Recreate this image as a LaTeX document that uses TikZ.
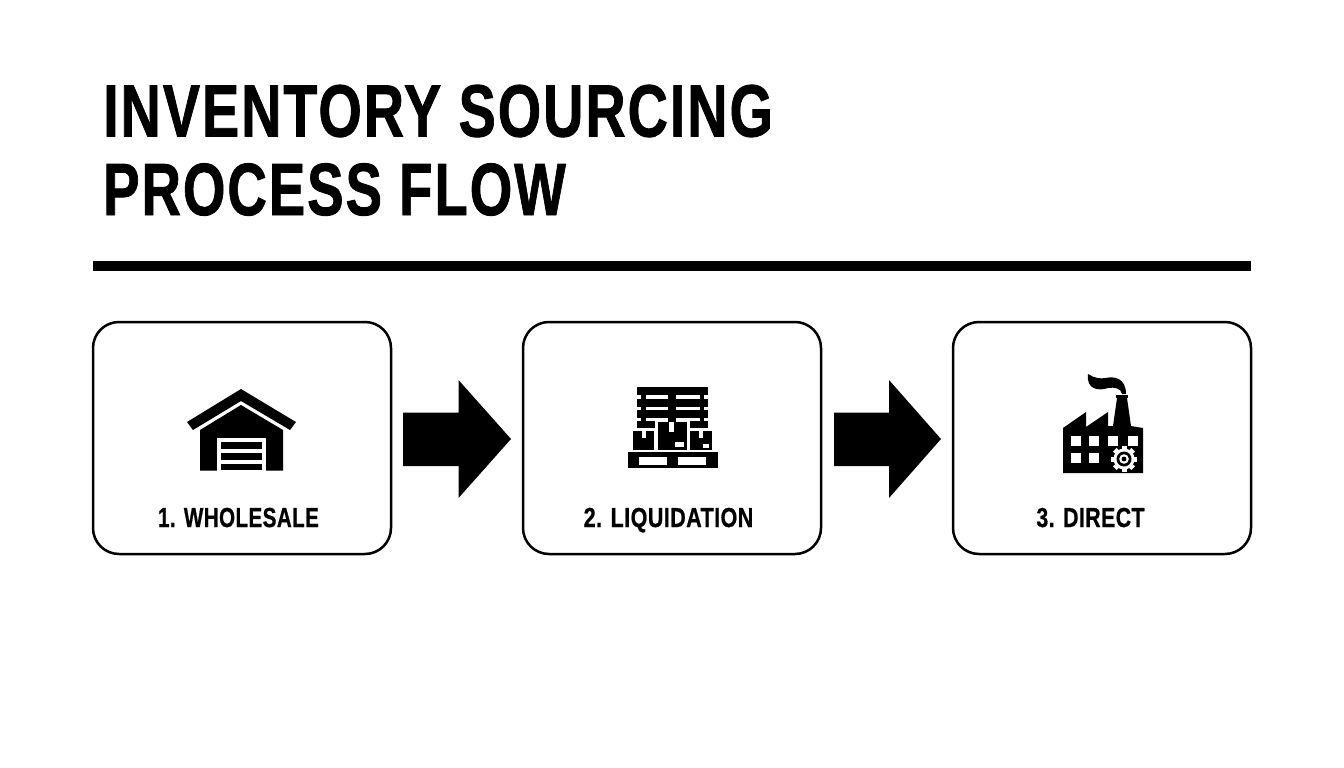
\documentclass[tikz,border=0pt]{standalone}
\usepackage{fontspec}
\setmainfont{Liberation Sans}
\newfontface\titlefont{Liberation Sans Bold}[FakeBold=1.2,LetterSpace=3.5]
\newfontface\labelfont{Liberation Sans Bold}[FakeBold=0.8,LetterSpace=2]
\usetikzlibrary{calc}
\tikzset{
  x=1pt,y=-1pt,
  card/.style={draw=black,line width=2.5pt,rounded corners=26pt,fill=white},
  titletext/.style={anchor=base west,inner sep=0pt,font=\titlefont\fontsize{74}{74}\selectfont},
  cardlabel/.style={anchor=base,inner sep=0pt,font=\labelfont\fontsize{27.5}{27.5}\selectfont}
}
\begin{document}
\begin{tikzpicture}
\useasboundingbox (0,0) rectangle (1344,768);
\fill[white] (0,0) rectangle (1344,768);
% title
\node[titletext,xscale=0.754] (t1) at (103,136.5) {INVENTORY SOURCING};
\node[titletext,xscale=0.739] (t2) at (103,215) {PROCESS FLOW};
\fill[black] (93,261) rectangle (1251,271);
% cards
\draw[card] (93,322) rectangle (391,554);
\draw[card] (523,322) rectangle (821,554);
\draw[card] (953,322) rectangle (1251,554);
\node[cardlabel,xscale=0.75] (l1) at (238.5,527) {1. WHOLESALE};
\node[cardlabel,xscale=0.783] (l2) at (668.5,527) {2. LIQUIDATION};
\node[cardlabel,xscale=0.775] (l3) at (1090.5,527) {3. DIRECT};
% arrows
\fill[black] (403,412.5) -- (458.5,412.5) -- (458.5,380) -- (511,439) -- (458.5,498) -- (458.5,466) -- (403,466) -- cycle;
\fill[black] (834,412.5) -- (889,412.5) -- (889,380) -- (941,439) -- (889,498) -- (889,466) -- (834,466) -- cycle;
% warehouse
\fill[black] (187,422) -- (241,389) -- (296,422) -- (290,430) -- (241,401) -- (193,430) -- cycle;
\fill[black] (200,470.5) -- (200,430) -- (241,405) -- (283,430) -- (283,470.5) -- cycle;
\fill[white] (217,438) rectangle (266,470.5);
\fill[black] (221,442) rectangle (262,449);
\fill[black] (221,453) rectangle (262,459.5);
\fill[black] (221,463.5) rectangle (262,470);
% pallets
\foreach \y in {387,398.5,410}{
  \fill[black] (637,\y) rectangle (708,{\y+8.3});
}
\foreach \y in {395,406.5,418}{
  \fill[black] (641,\y) rectangle (646,{\y+3.5});
  \fill[black] (668,\y) rectangle (676,{\y+3.5});
  \fill[black] (700,\y) rectangle (704,{\y+3.5});
}
\fill[black] (637,421) rectangle (655,428);
\fill[black] (690,421) rectangle (708,428);
\fill[black] (633,431) rectangle (654,450);
\fill[white] (642,431) rectangle (646,438);
\fill[black] (658,422) rectangle (687,450);
\fill[white] (669,422) rectangle (674,432);
\fill[white] (675,442) rectangle (684,447);
\fill[black] (690,431) rectangle (712,450);
\fill[white] (699,431) rectangle (703,438);
\fill[white] (703,444) rectangle (709,448);
\fill[black] (628,452) rectangle (718,468);
\fill[white] (639,457) rectangle (667,465);
\fill[white] (678,457) rectangle (706,465);
% factory
\fill[black] (1063,473) -- (1063,428) -- (1086,412) -- (1086,427) -- (1108,412) -- (1108,426) -- (1113,426) -- (1117,398) -- (1127,398) -- (1131,426) -- (1143,428) -- (1143,473) -- cycle;
\fill[black] (1116,395) rectangle (1128,398);
\fill[black] (1088,374) .. controls (1094,378) and (1100,379) .. (1106,378) .. controls (1114,376) and (1126,378) .. (1126,394) -- (1122,394) .. controls (1121,388) and (1114,387) .. (1108,388) .. controls (1099,391) and (1086,390) .. (1088,374) -- cycle;
\foreach \px in {1071,1089,1108,1128}{\fill[white] (\px,436) rectangle ++(10,9.5);}
\foreach \px in {1071,1089}{\fill[white] (\px,453) rectangle ++(10,10);}
\fill[white] (1124,459) circle (10.5);
\foreach \a in {0,45,...,315}{\fill[white,rotate around={\a:(1124,459)}] (1121.5,446) rectangle (1126.5,452);}
\fill[black] (1124,459) circle (7.5);
\fill[white] (1124,459) circle (4.8);
\fill[black] (1124,459) circle (2.4);
\end{tikzpicture}
\end{document}
